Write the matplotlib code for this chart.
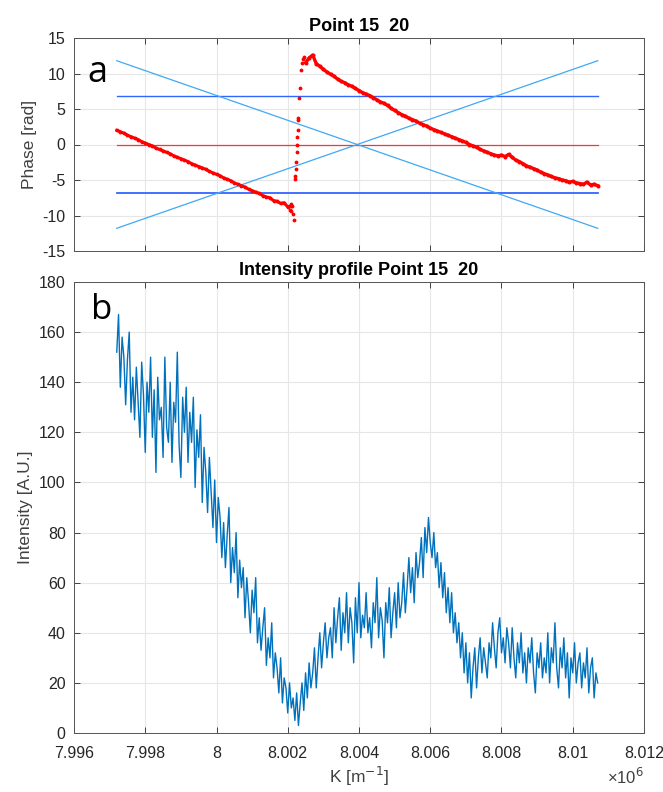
import numpy as np
import matplotlib
matplotlib.use("Agg")
import matplotlib.pyplot as plt
from matplotlib.ticker import FuncFormatter

plt.rcParams['font.family'] = ['Liberation Sans', 'DejaVu Sans']
plt.rcParams['axes.unicode_minus'] = False

# ---------------- data (K in units of 1e6 m^-1) ----------------
phase1_start, phase1_end = 7.9972, 8.0021
phase1 = [2.0, 1.8, 1.6, 1.3, 1.1, 0.9, 0.7, 0.4, 0.2, 0.0,
          -0.2, -0.5, -0.7, -0.9, -1.1, -1.3, -1.6, -1.8, -2.0, -2.2,
          -2.4, -2.7, -2.9, -3.1, -3.3, -3.5, -3.8, -4.0, -4.2, -4.4,
          -4.7, -4.9, -5.1, -5.4, -5.6, -5.8, -6.0, -6.3, -6.5, -6.7,
          -6.9, -7.2, -7.4, -7.5, -7.9, -8.0, -8.3, -8.2, -8.8, -8.6]

jump_k = [8.00205, 8.00208, 8.00210, 8.00212, 8.00215, 8.00218, 8.00220, 8.00221,
          8.00222, 8.00223, 8.00225, 8.00226, 8.00227, 8.00228, 8.00229, 8.00230,
          8.00232, 8.00234, 8.00236, 8.00240, 8.00242, 8.00245]
jump_phase = [-9.2, -8.4, -9.4, -8.7, -9.8, -10.7, -4.8, -4.5,
              -3.5, -2.5, -1.0, 0.0, 1.0, 2.0, 3.5, 3.8,
              6.5, 8.0, 10.5, 11.5, 12.0, 12.3]

phase3_start, phase3_end = 8.0025, 8.0107
phase3 = [11.5, 12.2, 12.6, 11.4, 11.0, 10.6, 10.2, 9.9, 9.6, 9.2,
          8.9, 8.7, 8.4, 8.2, 7.9, 7.6, 7.3, 7.1, 6.9, 6.6,
          6.3, 6.0, 5.8, 5.5, 5.1, 4.8, 4.5, 4.2, 4.0, 3.7,
          3.5, 3.3, 3.0, 2.8, 2.6, 2.3, 2.1, 1.9, 1.7, 1.5,
          1.3, 1.1, 0.9, 0.7, 0.5, 0.3, 0.0, -0.2, -0.4, -0.7,
          -0.9, -1.1, -1.3, -1.5, -1.6, -1.5, -1.7, -1.4, -1.8, -2.2,
          -2.4, -2.7, -3.0, -3.2, -3.4, -3.6, -3.9, -4.1, -4.3, -4.5,
          -4.7, -4.8, -5.0, -5.1, -5.3, -5.2, -5.4, -5.5, -5.6, -5.3,
          -5.7, -5.6, -5.8]

ref_k = [7.9972, 8.0107]
ref_level_zero = [0.0, 0.0]
ref_level_hi = [6.8, 6.8]
ref_level_lo = [-6.8, -6.8]
diag_down = [11.8, -11.8]
diag_up = [-11.8, 11.8]

int_start, int_end = 7.9972, 8.0107
intensity = [152, 167, 138, 158, 150, 131, 149, 160, 128, 142,
             125, 146, 132, 118, 148, 135, 112, 140, 128, 150,
             118, 137, 104, 142, 125, 130, 110, 150, 122, 116,
             140, 108, 132, 124, 152, 115, 102, 134, 120, 138,
             108, 128, 116, 134, 98, 121, 110, 127, 92, 114,
             104, 88, 110, 96, 82, 101, 76, 94, 86, 70,
             84, 66, 79, 90, 60, 74, 64, 80, 54, 69,
             58, 66, 46, 62, 52, 40, 57, 48, 62, 36,
             46, 33, 42, 50, 27, 38, 30, 44, 22, 32,
             26, 16, 30, 12, 22, 18, 8, 20, 10, 14,
             5, 16, 3, 12, 20, 9, 24, 14, 28, 18,
             24, 34, 18, 30, 40, 26, 36, 44, 30, 38,
             42, 30, 50, 36, 46, 54, 33, 48, 40, 56,
             36, 50, 44, 28, 54, 40, 60, 38, 47, 42,
             56, 40, 46, 34, 52, 44, 62, 38, 50, 45,
             30, 52, 44, 58, 38, 48, 56, 42, 60, 46,
             52, 64, 48, 58, 70, 56, 66, 52, 72, 62,
             68, 78, 62, 82, 72, 86, 76, 70, 80, 66,
             72, 58, 68, 54, 64, 48, 58, 44, 56, 40,
             48, 36, 44, 30, 40, 24, 36, 20, 32, 14,
             26, 34, 18, 30, 38, 24, 34, 28, 22, 36,
             30, 44, 34, 26, 40, 46, 32, 38, 28, 42,
             36, 26, 42, 30, 22, 36, 28, 40, 24, 32,
             20, 34, 28, 38, 24, 16, 32, 26, 36, 22,
             30, 24, 40, 20, 34, 28, 44, 26, 18, 34,
             26, 38, 22, 32, 14, 30, 24, 36, 20, 28,
             32, 18, 28, 22, 34, 16, 26, 30, 14, 24, 20]

x_ticks = [7.996, 7.998, 8.0, 8.002, 8.004, 8.006, 8.008, 8.010, 8.012]
phase_ticks = [-15, -10, -5, 0, 5, 10, 15]
int_ticks = [0, 20, 40, 60, 80, 100, 120, 140, 160, 180]

# ---------------- figure ----------------
fig = plt.figure(figsize=(6.63, 7.92), dpi=100)
W, H = 663, 792

def ax_rect(l, t, r, b):
    return [l / W, 1 - b / H, (r - l) / W, (b - t) / H]

ax1 = fig.add_axes(ax_rect(74, 38, 644, 251))
ax2 = fig.add_axes(ax_rect(74, 282, 644, 733))

tick_col = '#262626'
grid_col = '#e6e6e6'
label_col = '#404040'

for ax in (ax1, ax2):
    ax.set_xlim(7.996, 8.012)
    ax.set_xticks(x_ticks)
    ax.grid(True, color=grid_col, linewidth=0.8)
    ax.set_axisbelow(True)
    ax.tick_params(direction='in', length=4, colors=tick_col, labelsize=11.5,
                   top=True, right=True, width=0.6)
    ax.tick_params(axis='y', pad=6)
    ax.tick_params(axis='x', pad=9)
    for s in ax.spines.values():
        s.set_color('#555555')
        s.set_linewidth(0.7)

# top panel
k1 = np.linspace(phase1_start, phase1_end, len(phase1))
k3 = np.linspace(phase3_start, phase3_end, len(phase3))
ax1.plot(ref_k, ref_level_zero, color='#ff3333', lw=0.9)
ax1.plot(ref_k, ref_level_hi, color='#3366ff', lw=1.0)
ax1.plot(ref_k, ref_level_lo, color='#3366ff', lw=1.3)
ax1.plot(ref_k, diag_down, color='#3fa9f5', lw=0.9)
ax1.plot(ref_k, diag_up, color='#3fa9f5', lw=0.9)
ax1.plot(k1, phase1, color='red', lw=2.2, marker='.', ms=3.5)
ax1.plot(k3, phase3, color='red', lw=2.4, marker='.', ms=3.8)
ax1.plot(jump_k, jump_phase, color='red', ls='none', marker='.', ms=3.5)
ax1.set_ylim(-15, 15)
ax1.set_yticks(phase_ticks)
ax1.set_xticklabels([])
ax1.set_ylabel('Phase [rad]', fontsize=12.5, color=label_col, labelpad=4)
ax1.set_title('Point 15  20', fontsize=13, fontweight='bold', color='black', pad=5)
ax1.text(13 / 570, 0.92, 'a', transform=ax1.transAxes, fontsize=26,
         family=['Open Sans', 'DejaVu Sans'], va='top', ha='left')

# bottom panel
ki = np.linspace(int_start, int_end, len(intensity))
ax2.plot(ki, intensity, color='#0072BD', lw=1.0)
ax2.set_ylim(0, 180)
ax2.set_yticks(int_ticks)
ax2.xaxis.set_major_formatter(FuncFormatter(lambda v, p: '%g' % round(v, 3)))
ax2.set_ylabel('Intensity [A.U.]', fontsize=12.5, color=label_col, labelpad=4)
ax2.set_xlabel('K [m$^{-1}$]', fontsize=12.5, color=label_col, labelpad=3)
ax2.set_title('Intensity profile Point 15  20', fontsize=13, fontweight='bold',
              color='black', pad=5)
ax2.text(17 / 570, 0.975, 'b', transform=ax2.transAxes, fontsize=25,
         family=['Open Sans', 'DejaVu Sans'], va='top', ha='left')
ax2.text(1.0, -0.075, '\u00d710$^6$', transform=ax2.transAxes, fontsize=12,
         color=label_col, ha='right', va='top')

fig.savefig('out.png', dpi=100, facecolor='white')
